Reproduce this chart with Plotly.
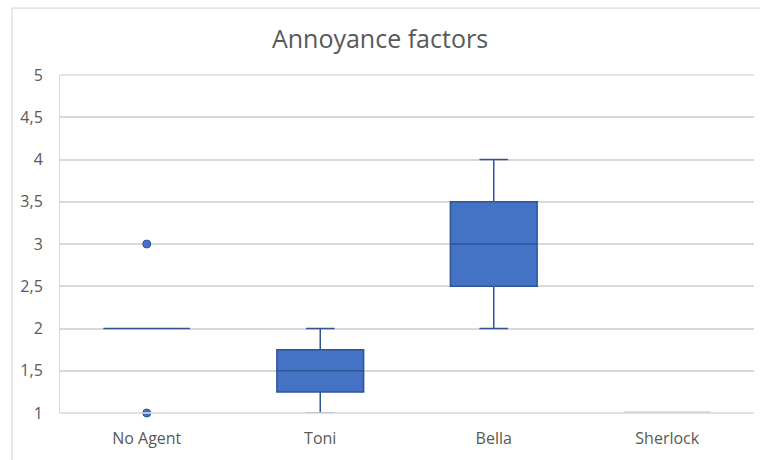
import plotly.graph_objects as go

# Summary statistics of the annoyance ratings per agent
agents = ["No Agent", "Toni", "Bella", "Sherlock"]
lower_whisker = [2, 1, 2, 1]
q1 = [2, 1.25, 2.5, 1]
median = [2, 1.5, 3, 1]
q3 = [2, 1.75, 3.5, 1]
upper_whisker = [2, 2, 4, 1]
outlier_agent = ["No Agent", "No Agent"]
outlier_value = [3, 1]

y_ticks = [1, 1.5, 2, 2.5, 3, 3.5, 4, 4.5, 5]
y_tick_text = ["1", "1,5", "2", "2,5", "3", "3,5", "4", "4,5", "5"]

fill = "#4472C4"
edge = "#2F5597"
grey_text = "#595959"
grid = "#D9D9D9"

fig = go.Figure()
for i, name in enumerate(agents):
    flat = name == "Sherlock"
    fig.add_trace(go.Box(
        x=[name],
        q1=[q1[i]], median=[median[i]], q3=[q3[i]],
        lowerfence=[lower_whisker[i]], upperfence=[upper_whisker[i]],
        fillcolor=fill,
        line=dict(color="#B8C2DA" if flat else edge, width=3 if flat else 1.5),
        whiskerwidth=0.33,
        width=0.5,
        boxpoints=False,
        showlegend=False,
        hoverinfo="skip",
    ))

fig.add_trace(go.Scatter(
    x=outlier_agent, y=outlier_value, mode="markers",
    marker=dict(color=fill, size=8, line=dict(color=edge, width=1)),
    showlegend=False, cliponaxis=False, hoverinfo="skip",
))

# Gridlines at the ends of the value range (drawn over the marks)
fig.add_shape(type="line", xref="paper", yref="paper", x0=0, x1=1,
              y0=1, y1=1, line=dict(color=grid, width=1.5), layer="above")
fig.add_shape(type="line", xref="paper", yref="paper", x0=0, x1=1,
              y0=0, y1=0, line=dict(color="rgba(217,217,217,0.8)", width=2),
              layer="above")

# Outer chart-area frame
fig.add_shape(type="rect", xref="paper", yref="paper",
              x0=-0.0692, x1=1.2, y0=-0.3, y1=1.198,
              line=dict(color=grid, width=1.2), fillcolor="rgba(0,0,0,0)",
              layer="below")

fig.update_layout(
    width=760, height=460,
    margin=dict(l=60, r=6, t=75, b=47),
    paper_bgcolor="white", plot_bgcolor="white",
    title=dict(text="Annoyance factors", x=0.5, xanchor="center",
               y=0.915, yanchor="middle",
               font=dict(family="Open Sans", size=25, color=grey_text)),
    font=dict(family="Open Sans", size=16, color=grey_text),
    boxmode="overlay",
    xaxis=dict(categoryorder="array", categoryarray=agents,
               range=[-0.5, 3.5], showgrid=False, zeroline=False,
               showline=False, ticks="", tickfont=dict(size=16, color=grey_text),
               ticklabelstandoff=14),
    yaxis=dict(range=[1, 5], tickvals=y_ticks, ticktext=y_tick_text,
               showgrid=True, gridcolor=grid, gridwidth=1.5,
               zeroline=False, showline=True, linecolor=grid, linewidth=1,
               ticks="", tickfont=dict(size=16, color=grey_text),
               ticklabelstandoff=13),
)

fig.write_html("out.html")
